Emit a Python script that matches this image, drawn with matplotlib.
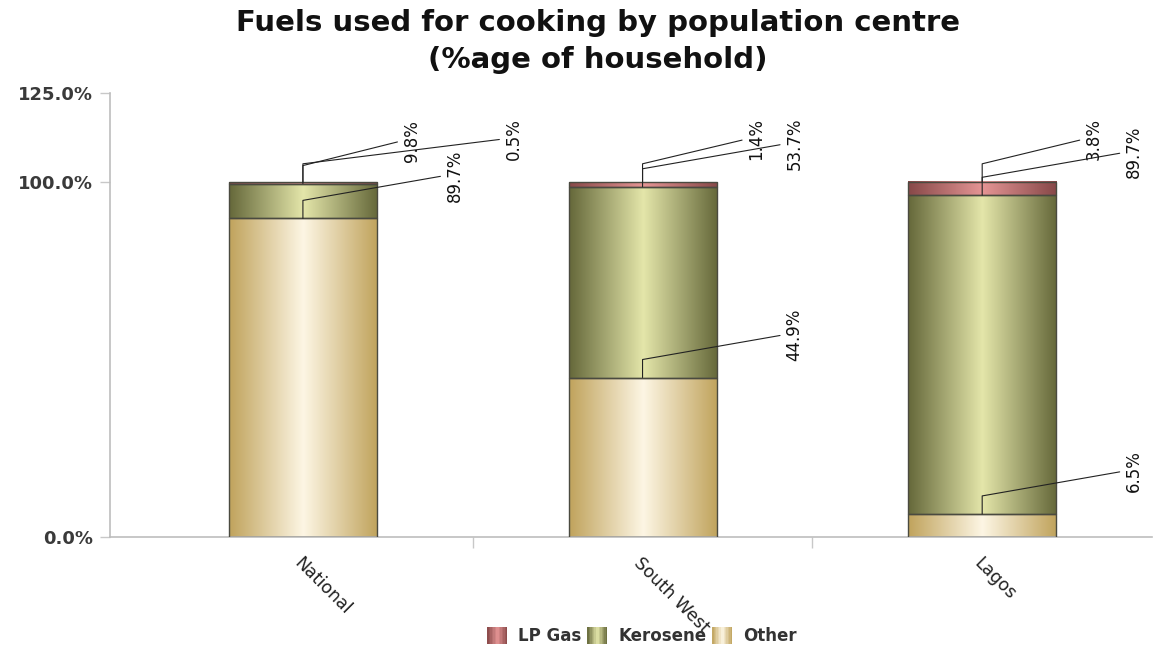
import math

import numpy as np
import matplotlib
matplotlib.use("Agg")
import matplotlib.pyplot as plt
from matplotlib.colors import LinearSegmentedColormap
from matplotlib.legend_handler import HandlerBase
from matplotlib.patches import Patch, Rectangle
from matplotlib.transforms import ScaledTranslation

categories = ["National", "South West", "Lagos"]
other = [89.7, 44.9, 6.5]
kerosene = [9.8, 53.7, 89.7]
lp_gas = [0.5, 1.4, 3.8]

series_names = ["Other", "Kerosene", "LP Gas"]
legend_order = ["LP Gas", "Kerosene", "Other"]
y_ticks = [0, 100, 125]

# gradient colours: edge -> centre -> edge
grad_colors = {
    "Other": ("#C0A35C", "#FDF6E4"),
    "Kerosene": ("#65683A", "#E4E6AA"),
    "LP Gas": ("#874848", "#E59595"),
}
# horizontal offset (pixels) of each label from its bar centre
label_dx = {
    "Other": [143, 143, 143],
    "Kerosene": [100, 143, 143],
    "LP Gas": [202, 105, 103],
}
LABEL_DY = 43   # label centre above segment top, pixels
ELBOW = 18      # vertical part of the leader, pixels


def make_cmap(name):
    edge, centre = grad_colors[name]
    return LinearSegmentedColormap.from_list(name, [edge, centre, edge])


class GradientHandler(HandlerBase):
    def __init__(self, cmap):
        super().__init__()
        self.cmap = cmap

    def create_artists(self, legend, orig_handle, xdescent, ydescent,
                       width, height, fontsize, trans):
        n = 14
        out = []
        for i in range(n):
            out.append(Rectangle((-xdescent + width * i / n, -ydescent), width / n, height,
                                 facecolor=self.cmap((i + 0.5) / n), edgecolor="none",
                                 transform=trans))
        return out


fig = plt.figure(figsize=(11.57, 6.45), dpi=100)
ax = fig.add_axes([110 / 1157, 108 / 645, 1042 / 1157, 444 / 645])

x = np.arange(len(categories))
width = 0.436
grad = np.linspace(0, 1, 256)[None, :]

series = {"Other": other, "Kerosene": kerosene, "LP Gas": lp_gas}
bottom = np.zeros(len(categories))
tops = {}
for name in series_names:
    vals = np.array(series[name])
    bars = ax.bar(x, vals, width, bottom=bottom, facecolor="none",
                  edgecolor="#4a4a40", linewidth=1.0, zorder=3)
    cmap = make_cmap(name)
    for p in bars.patches:
        x0, y0 = p.get_xy()
        ax.imshow(grad, cmap=cmap, extent=(x0, x0 + p.get_width(), y0, y0 + p.get_height()),
                  aspect="auto", interpolation="bilinear", zorder=2)
    bottom = bottom + vals
    tops[name] = bottom.copy()

ax.set_xlim(-0.568, 2.5)
ax.set_ylim(0, 125)

# data labels with elbow leader lines
for name in series_names:
    for i in range(len(categories)):
        dx = label_dx[name][i]
        ang = math.degrees(math.atan2(LABEL_DY - ELBOW, dx))
        ax.annotate(f"{series[name][i]:.1f}%", xy=(x[i], tops[name][i]),
                    xytext=(dx, LABEL_DY), textcoords="offset pixels",
                    rotation=90, ha="left", va="center", fontsize=12, color="#111111",
                    arrowprops=dict(arrowstyle="-", color="#222222", linewidth=0.8,
                                    relpos=(0, 0.5), shrinkB=0,
                                    connectionstyle=f"angle,angleA={ang},angleB=90,rad=0"),
                    zorder=5)

# axes styling
for side in ["top", "right"]:
    ax.spines[side].set_visible(False)
for side in ["left", "bottom"]:
    ax.spines[side].set_color("#bdbdbd")
    ax.spines[side].set_linewidth(1.2)

ax.set_yticks(y_ticks)
ax.set_yticklabels([f"{v:.1f}%" for v in y_ticks])
ax.tick_params(axis="y", length=7, width=1, color="#c8c8c8", pad=5,
               labelsize=13, labelcolor="#3a3a3a")
for lbl in ax.get_yticklabels():
    lbl.set_fontweight("bold")

ax.set_xticks(x)
ax.set_xticklabels(categories, rotation=-45, ha="left", va="center",
                   rotation_mode="anchor", fontsize=12.5, color="#222222")
ax.set_xticks([0.5, 1.5], minor=True)
ax.tick_params(axis="x", which="major", length=0, pad=17)
ax.tick_params(axis="x", which="minor", length=8, width=1, color="#c8c8c8")
shift = ScaledTranslation(-6 / 100, 0, fig.dpi_scale_trans)
for lbl in ax.get_xticklabels():
    lbl.set_transform(lbl.get_transform() + shift)

# title
fig.text(0.517, 1 - 23 / 645, "Fuels used for cooking by population centre",
         ha="center", va="center", fontsize=21, fontweight="bold", color="#111111")
fig.text(0.517, 1 - 60 / 645, "(%age of household)",
         ha="center", va="center", fontsize=21, fontweight="bold", color="#111111")

# legend
handles = [Patch(label=n) for n in legend_order]
handler_map = {h: GradientHandler(make_cmap(n)) for h, n in zip(handles, legend_order)}
leg = fig.legend(handles=handles, labels=legend_order, handler_map=handler_map,
                 loc="center", bbox_to_anchor=(642 / 1157, 1 - 636 / 645), ncol=3,
                 frameon=False, prop={"size": 12, "weight": "bold"},
                 handlelength=1.2, handleheight=1.15, handletextpad=0.65,
                 columnspacing=0.35, borderpad=0.1)
for t in leg.get_texts():
    t.set_color("#333333")

fig.savefig("out.png", dpi=100)
